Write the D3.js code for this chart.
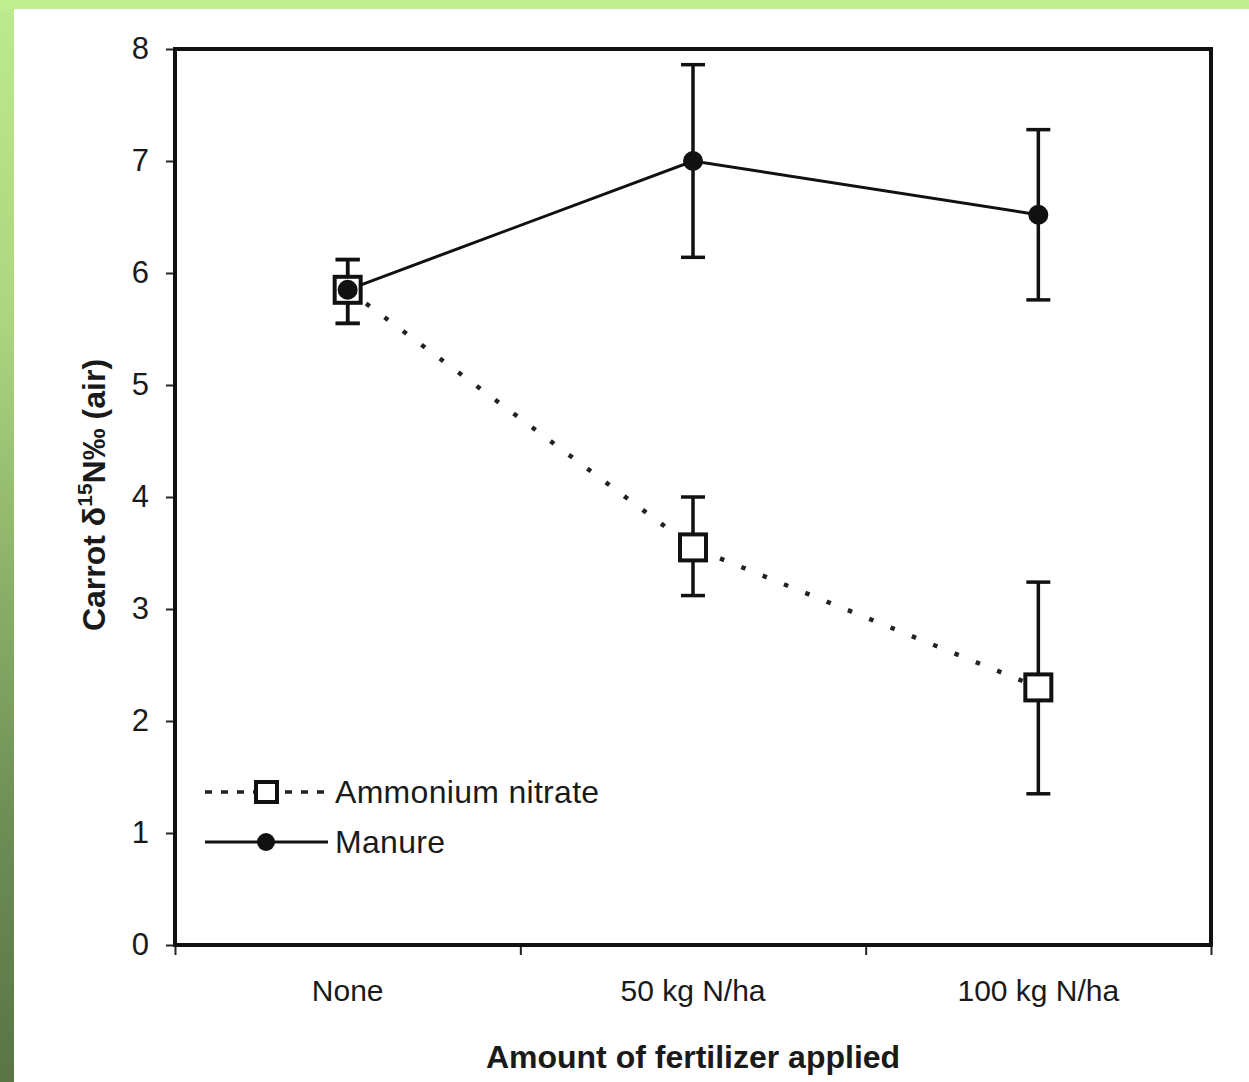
<!DOCTYPE html>
<html>
<head>
<meta charset="utf-8">
<script src="https://cdn.jsdelivr.net/npm/d3@7"></script>
<style>
  body { margin: 0; padding: 0; background: #fff; }
  text { font-family: "Liberation Sans", Arial, sans-serif; fill: #1a1a1a; }
</style>
</head>
<body>
<div class="chart"></div>
<script>
var svgWidth = 1249;
var svgHeight = 1082;

// data
var categories = ["None", "50 kg N/ha", "100 kg N/ha"];
var ammoniumMean = [5.85, 3.55, 2.3];
var ammoniumLow = [5.55, 3.12, 1.35];
var ammoniumHigh = [6.12, 4.0, 3.24];
var manureMean = [5.85, 7.0, 6.52];
var manureLow = [5.55, 6.14, 5.76];
var manureHigh = [6.12, 7.86, 7.28];
var yTicks = [0, 1, 2, 3, 4, 5, 6, 7, 8];

var plot = { left: 175, right: 1211, top: 49, bottom: 945 };

var svg = d3.select(".chart")
    .append("svg")
    .attr("width", svgWidth)
    .attr("height", svgHeight);

// green slide background strips
var defs = svg.append("defs");
var grad = defs.append("linearGradient")
    .attr("id", "leftGreen")
    .attr("x1", 0).attr("y1", 0).attr("x2", 0).attr("y2", 1);
grad.append("stop").attr("offset", "0%").attr("stop-color", "#bdea8e");
grad.append("stop").attr("offset", "30%").attr("stop-color", "#acd57f");
grad.append("stop").attr("offset", "75%").attr("stop-color", "#6f8f56");
grad.append("stop").attr("offset", "100%").attr("stop-color", "#5a7445");

svg.append("rect").attr("x", 0).attr("y", 0).attr("width", svgWidth).attr("height", svgHeight).attr("fill", "#fff");
svg.append("rect").attr("x", 0).attr("y", 0).attr("width", 14).attr("height", svgHeight).attr("fill", "url(#leftGreen)");
svg.append("rect").attr("x", 0).attr("y", 0).attr("width", svgWidth).attr("height", 9).attr("fill", "#c0ee90");

// scales
var x = d3.scaleBand()
    .domain(categories)
    .range([plot.left, plot.right])
    .padding(0);

var xEdges = d3.scaleLinear()
    .domain([0, categories.length])
    .range([plot.left, plot.right]);

var y = d3.scaleLinear()
    .domain([0, 8])
    .range([plot.bottom, plot.top]);

var cx = d => x(d) + x.bandwidth() / 2;

// y axis
var yAxis = svg.append("g")
    .attr("transform", `translate(${plot.left},0)`)
    .call(d3.axisLeft(y).tickValues(yTicks).tickSize(9).tickPadding(17).tickFormat(d3.format("d")));
yAxis.select(".domain").remove();
yAxis.selectAll("line").attr("stroke", "#222").attr("stroke-width", 2);
yAxis.selectAll("text").attr("font-size", 31).attr("fill", "#1a1a1a")
    .style("font-family", "'Liberation Sans', Arial, sans-serif");

// x axis tick marks on the category edges
var xTickAxis = svg.append("g")
    .attr("transform", `translate(0,${plot.bottom})`)
    .call(d3.axisBottom(xEdges).tickValues(d3.range(categories.length + 1)).tickSize(10).tickFormat(""));
xTickAxis.select(".domain").remove();
xTickAxis.selectAll("line").attr("stroke", "#222").attr("stroke-width", 2);

// x axis labels
var xAxis = svg.append("g")
    .attr("transform", `translate(0,${plot.bottom})`)
    .call(d3.axisBottom(x).tickSize(0).tickPadding(35));
xAxis.select(".domain").remove();
xAxis.selectAll("text").attr("font-size", 30).attr("fill", "#1a1a1a")
    .style("font-family", "'Liberation Sans', Arial, sans-serif");

// frame
svg.append("rect")
    .attr("x", plot.left).attr("y", plot.top)
    .attr("width", plot.right - plot.left)
    .attr("height", plot.bottom - plot.top)
    .attr("fill", "none")
    .attr("stroke", "#111")
    .attr("stroke-width", 4);

// axis titles
svg.append("text")
    .attr("x", (plot.left + plot.right) / 2)
    .attr("y", 1068)
    .attr("text-anchor", "middle")
    .attr("font-size", 32)
    .attr("font-weight", "bold")
    .text("Amount of fertilizer applied");

var yTitle = svg.append("text")
    .attr("transform", "translate(105,495) rotate(-90)")
    .attr("text-anchor", "middle")
    .attr("font-size", 32)
    .attr("font-weight", "bold");
yTitle.append("tspan").text("Carrot δ");
yTitle.append("tspan").attr("font-size", 21).attr("dy", -13).text("15");
yTitle.append("tspan").attr("dy", 13).text("N‰ (air)");

// lines
var line = d3.line()
    .x((d, i) => cx(categories[i]))
    .y(d => y(d));

svg.append("path")
    .datum(ammoniumMean)
    .attr("d", line)
    .attr("fill", "none")
    .attr("stroke", "#222")
    .attr("stroke-width", 4.5)
    .attr("stroke-dasharray", "4.5,18.5");

svg.append("path")
    .datum(manureMean)
    .attr("d", line)
    .attr("fill", "none")
    .attr("stroke", "#111")
    .attr("stroke-width", 3);

// error bars
function errorBars(low, high) {
    var g = svg.append("g").attr("stroke", "#111").attr("stroke-width", 3.5);
    categories.forEach(function(c, i) {
        var px = cx(c);
        g.append("line").attr("x1", px).attr("x2", px).attr("y1", y(low[i])).attr("y2", y(high[i]));
        g.append("line").attr("x1", px - 12).attr("x2", px + 12).attr("y1", y(low[i])).attr("y2", y(low[i]));
        g.append("line").attr("x1", px - 12).attr("x2", px + 12).attr("y1", y(high[i])).attr("y2", y(high[i]));
    });
}
errorBars(ammoniumLow, ammoniumHigh);
errorBars(manureLow, manureHigh);

// markers
svg.selectAll(".sq")
    .data(ammoniumMean)
    .enter().append("rect")
    .attr("class", "sq")
    .attr("x", (d, i) => cx(categories[i]) - 13)
    .attr("y", d => y(d) - 13)
    .attr("width", 26)
    .attr("height", 26)
    .attr("fill", "#fff")
    .attr("stroke", "#111")
    .attr("stroke-width", 4);

svg.selectAll(".dot")
    .data(manureMean)
    .enter().append("circle")
    .attr("class", "dot")
    .attr("cx", (d, i) => cx(categories[i]))
    .attr("cy", d => y(d))
    .attr("r", 10)
    .attr("fill", "#111");

// legend
var legend = svg.append("g");
legend.append("line")
    .attr("x1", 205).attr("x2", 331).attr("y1", 792).attr("y2", 792)
    .attr("stroke", "#222").attr("stroke-width", 3.5)
    .attr("stroke-dasharray", "7,9");
legend.append("rect")
    .attr("x", 256).attr("y", 782).attr("width", 21).attr("height", 20)
    .attr("fill", "#fff").attr("stroke", "#111").attr("stroke-width", 4);
legend.append("text")
    .attr("x", 335).attr("y", 803)
    .attr("font-size", 32)
    .attr("letter-spacing", 0.3)
    .text("Ammonium nitrate");

legend.append("line")
    .attr("x1", 205).attr("x2", 328).attr("y1", 842).attr("y2", 842)
    .attr("stroke", "#111").attr("stroke-width", 3);
legend.append("circle")
    .attr("cx", 266).attr("cy", 842).attr("r", 9)
    .attr("fill", "#111");
legend.append("text")
    .attr("x", 335).attr("y", 853)
    .attr("font-size", 32)
    .attr("letter-spacing", 0.3)
    .text("Manure");
</script>
</body>
</html>
